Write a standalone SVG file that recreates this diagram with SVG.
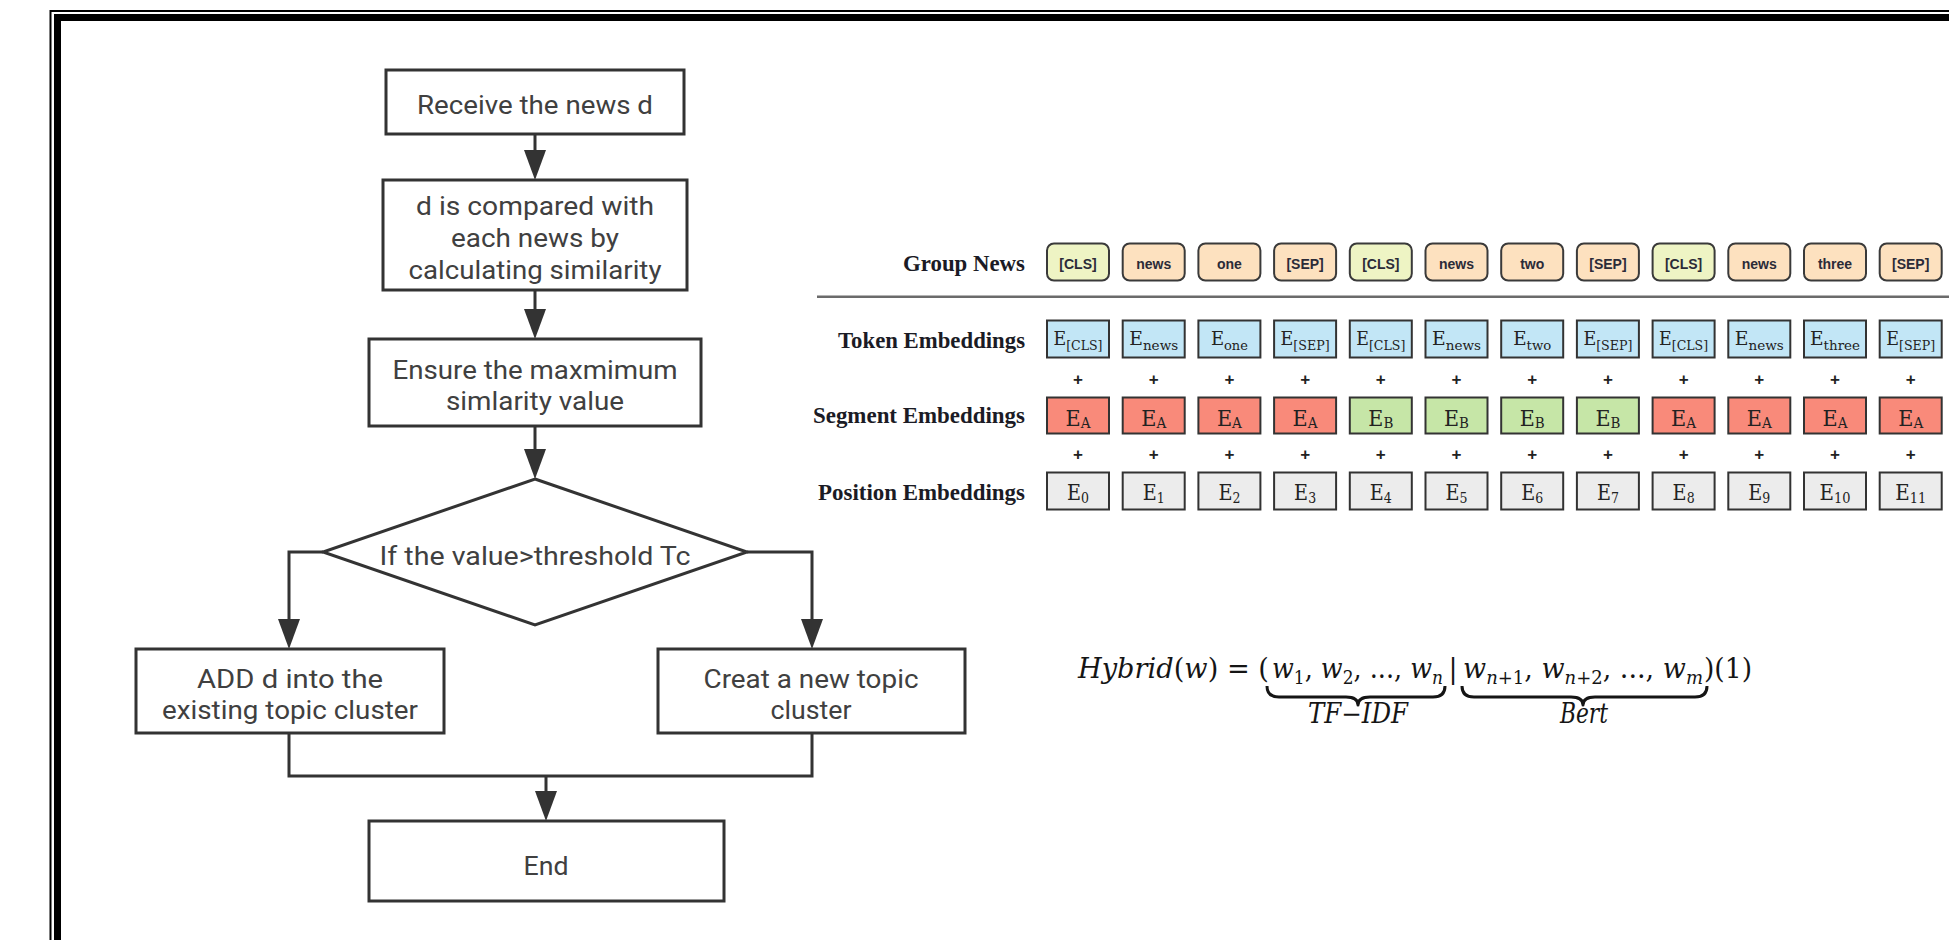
<svg xmlns="http://www.w3.org/2000/svg" width="1949" height="940" viewBox="0 0 1949 940">
<defs>
<style>
.box{fill:#fff;stroke:#333;stroke-width:3}
.conn{fill:none;stroke:#333;stroke-width:3}
.ft{font-family:Roboto,"Liberation Sans",sans-serif;font-size:25px;fill:#404040;text-anchor:middle}
.lbl{font-family:"Liberation Serif","Times New Roman",serif;font-weight:bold;font-size:24px;fill:#1b1b25;text-anchor:end}
.gt{font-family:"Liberation Sans",Arial,sans-serif;font-weight:bold;font-size:14px;fill:#2b2b38;text-anchor:middle}
.gc{fill:#eef4c4;stroke:#3a3a3a;stroke-width:2}
.gw{fill:#fde1bf;stroke:#3a3a3a;stroke-width:2}
.tk{fill:#c2e6f6;stroke:#333;stroke-width:2}
.sa{fill:#f98a7a;stroke:#333;stroke-width:2}
.sb{fill:#c6e6a7;stroke:#333;stroke-width:2}
.ps{fill:#ececec;stroke:#333;stroke-width:2}
.et{font-family:"DejaVu Serif",serif;fill:#222;text-anchor:middle}
.plus{font-family:"Liberation Sans",Arial,sans-serif;font-weight:bold;font-size:17px;text-anchor:middle;fill:#222}
.math{font-family:"DejaVu Serif",serif;font-size:27px;fill:#151515}
.it{font-style:italic}
.brace{fill:none;stroke:#151515;stroke-width:3;stroke-linejoin:round}
.frame{fill:none;stroke:#000}
</style>
<marker id="ah" markerUnits="userSpaceOnUse" viewBox="0 0 30 22" markerWidth="30" markerHeight="22" refX="0" refY="11" orient="auto">
<path d="M0,0 L30,11 L0,22 Z" fill="#333"/>
</marker>
</defs>
<rect width="1949" height="940" fill="#fff"/>
<g id="frame">
<path class="frame" d="M50.5,940 V11 H1949" stroke-width="2"/>
<path class="frame" d="M57.5,940 V17.5 H1949" stroke-width="7"/>
</g>

<g id="connectors">
<path class="conn" d="M535,134 V150" marker-end="url(#ah)"/>
<path class="conn" d="M535,290 V309" marker-end="url(#ah)"/>
<path class="conn" d="M535,426 V449" marker-end="url(#ah)"/>
<path class="conn" d="M323,552 H289 V619" marker-end="url(#ah)"/>
<path class="conn" d="M747,552 H812 V619" marker-end="url(#ah)"/>
<path class="conn" d="M289,733 V776 H812 V733"/>
<path class="conn" d="M546,776 V791" marker-end="url(#ah)"/>
</g>

<g id="n-receive">
<rect class="box" x="386" y="70" width="298" height="64"/>
<text class="ft" x="535" y="114" textLength="236" lengthAdjust="spacingAndGlyphs">Receive the news d</text>
</g>
<g id="n-compare">
<rect class="box" x="383" y="180" width="304" height="110"/>
<text class="ft" x="535" y="215" textLength="238" lengthAdjust="spacingAndGlyphs">d is compared with</text>
<text class="ft" x="535" y="247" textLength="168" lengthAdjust="spacingAndGlyphs">each news by</text>
<text class="ft" x="535" y="279" textLength="253" lengthAdjust="spacingAndGlyphs">calculating similarity</text>
</g>
<g id="n-ensure">
<rect class="box" x="369" y="339" width="332" height="87"/>
<text class="ft" x="535" y="379" textLength="285" lengthAdjust="spacingAndGlyphs">Ensure the maxmimum</text>
<text class="ft" x="535" y="410" textLength="178" lengthAdjust="spacingAndGlyphs">simlarity value</text>
</g>
<g id="n-decision">
<path class="box" d="M535,479 L747,552 L535,625 L323,552 Z"/>
<text class="ft" x="535" y="565" textLength="311" lengthAdjust="spacingAndGlyphs">If the value&gt;threshold Tc</text>
</g>
<g id="n-add">
<rect class="box" x="136" y="649" width="308" height="84"/>
<text class="ft" x="290" y="688" textLength="186" lengthAdjust="spacingAndGlyphs">ADD d into the</text>
<text class="ft" x="290" y="719" textLength="256" lengthAdjust="spacingAndGlyphs">existing topic cluster</text>
</g>
<g id="n-create">
<rect class="box" x="658" y="649" width="307" height="84"/>
<text class="ft" x="811" y="688" textLength="215" lengthAdjust="spacingAndGlyphs">Creat a new topic</text>
<text class="ft" x="811" y="719" textLength="81" lengthAdjust="spacingAndGlyphs">cluster</text>
</g>
<g id="n-end">
<rect class="box" x="369" y="821" width="355" height="80"/>
<text class="ft" x="546" y="875" textLength="45" lengthAdjust="spacingAndGlyphs">End</text>
</g>

<g id="bert-labels">
<text class="lbl" x="1025" y="271" textLength="122" lengthAdjust="spacingAndGlyphs">Group News</text>
<text class="lbl" x="1025" y="348" textLength="187" lengthAdjust="spacingAndGlyphs">Token Embeddings</text>
<text class="lbl" x="1025" y="423" textLength="212" lengthAdjust="spacingAndGlyphs">Segment Embeddings</text>
<text class="lbl" x="1025" y="500" textLength="207" lengthAdjust="spacingAndGlyphs">Position Embeddings</text>
<path d="M817,296.7 H1949" stroke="#6b6b6b" stroke-width="2.5"/>
</g>

<g id="group-news">
<rect class="gc" x="1047" y="243.5" width="62" height="37" rx="7"/><text class="gt" x="1078" y="269">[CLS]</text>
<rect class="gw" x="1122.7" y="243.5" width="62" height="37" rx="7"/><text class="gt" x="1153.7" y="269">news</text>
<rect class="gw" x="1198.4" y="243.5" width="62" height="37" rx="7"/><text class="gt" x="1229.4" y="269">one</text>
<rect class="gw" x="1274.1" y="243.5" width="62" height="37" rx="7"/><text class="gt" x="1305.1" y="269">[SEP]</text>
<rect class="gc" x="1349.8" y="243.5" width="62" height="37" rx="7"/><text class="gt" x="1380.8" y="269">[CLS]</text>
<rect class="gw" x="1425.5" y="243.5" width="62" height="37" rx="7"/><text class="gt" x="1456.5" y="269">news</text>
<rect class="gw" x="1501.2" y="243.5" width="62" height="37" rx="7"/><text class="gt" x="1532.2" y="269">two</text>
<rect class="gw" x="1576.9" y="243.5" width="62" height="37" rx="7"/><text class="gt" x="1607.9" y="269">[SEP]</text>
<rect class="gc" x="1652.6" y="243.5" width="62" height="37" rx="7"/><text class="gt" x="1683.6" y="269">[CLS]</text>
<rect class="gw" x="1728.3" y="243.5" width="62" height="37" rx="7"/><text class="gt" x="1759.3" y="269">news</text>
<rect class="gw" x="1804" y="243.5" width="62" height="37" rx="7"/><text class="gt" x="1835" y="269">three</text>
<rect class="gw" x="1879.7" y="243.5" width="62" height="37" rx="7"/><text class="gt" x="1910.7" y="269">[SEP]</text>
</g>

<g id="token-embeddings">
<rect class="tk" x="1047" y="320.5" width="62" height="37"/><text class="et" x="1078" y="345" font-size="18" textLength="49" lengthAdjust="spacingAndGlyphs">E<tspan font-size="13" dy="5">[CLS]</tspan></text>
<rect class="tk" x="1122.7" y="320.5" width="62" height="37"/><text class="et" x="1153.7" y="345" font-size="18" textLength="49" lengthAdjust="spacingAndGlyphs">E<tspan font-size="13" dy="5">news</tspan></text>
<rect class="tk" x="1198.4" y="320.5" width="62" height="37"/><text class="et" x="1229.4" y="345" font-size="18" textLength="37" lengthAdjust="spacingAndGlyphs">E<tspan font-size="13" dy="5">one</tspan></text>
<rect class="tk" x="1274.1" y="320.5" width="62" height="37"/><text class="et" x="1305.1" y="345" font-size="18" textLength="49" lengthAdjust="spacingAndGlyphs">E<tspan font-size="13" dy="5">[SEP]</tspan></text>
<rect class="tk" x="1349.8" y="320.5" width="62" height="37"/><text class="et" x="1380.8" y="345" font-size="18" textLength="49" lengthAdjust="spacingAndGlyphs">E<tspan font-size="13" dy="5">[CLS]</tspan></text>
<rect class="tk" x="1425.5" y="320.5" width="62" height="37"/><text class="et" x="1456.5" y="345" font-size="18" textLength="49" lengthAdjust="spacingAndGlyphs">E<tspan font-size="13" dy="5">news</tspan></text>
<rect class="tk" x="1501.2" y="320.5" width="62" height="37"/><text class="et" x="1532.2" y="345" font-size="18" textLength="38" lengthAdjust="spacingAndGlyphs">E<tspan font-size="13" dy="5">two</tspan></text>
<rect class="tk" x="1576.9" y="320.5" width="62" height="37"/><text class="et" x="1607.9" y="345" font-size="18" textLength="49" lengthAdjust="spacingAndGlyphs">E<tspan font-size="13" dy="5">[SEP]</tspan></text>
<rect class="tk" x="1652.6" y="320.5" width="62" height="37"/><text class="et" x="1683.6" y="345" font-size="18" textLength="49" lengthAdjust="spacingAndGlyphs">E<tspan font-size="13" dy="5">[CLS]</tspan></text>
<rect class="tk" x="1728.3" y="320.5" width="62" height="37"/><text class="et" x="1759.3" y="345" font-size="18" textLength="49" lengthAdjust="spacingAndGlyphs">E<tspan font-size="13" dy="5">news</tspan></text>
<rect class="tk" x="1804" y="320.5" width="62" height="37"/><text class="et" x="1835" y="345" font-size="18" textLength="50" lengthAdjust="spacingAndGlyphs">E<tspan font-size="13" dy="5">three</tspan></text>
<rect class="tk" x="1879.7" y="320.5" width="62" height="37"/><text class="et" x="1910.7" y="345" font-size="18" textLength="49" lengthAdjust="spacingAndGlyphs">E<tspan font-size="13" dy="5">[SEP]</tspan></text>
</g>

<g id="plus-signs">
<text class="plus" x="1078" y="385">+</text><text class="plus" x="1153.7" y="385">+</text><text class="plus" x="1229.4" y="385">+</text><text class="plus" x="1305.1" y="385">+</text><text class="plus" x="1380.8" y="385">+</text><text class="plus" x="1456.5" y="385">+</text><text class="plus" x="1532.2" y="385">+</text><text class="plus" x="1607.9" y="385">+</text><text class="plus" x="1683.6" y="385">+</text><text class="plus" x="1759.3" y="385">+</text><text class="plus" x="1835" y="385">+</text><text class="plus" x="1910.7" y="385">+</text>
<text class="plus" x="1078" y="460">+</text><text class="plus" x="1153.7" y="460">+</text><text class="plus" x="1229.4" y="460">+</text><text class="plus" x="1305.1" y="460">+</text><text class="plus" x="1380.8" y="460">+</text><text class="plus" x="1456.5" y="460">+</text><text class="plus" x="1532.2" y="460">+</text><text class="plus" x="1607.9" y="460">+</text><text class="plus" x="1683.6" y="460">+</text><text class="plus" x="1759.3" y="460">+</text><text class="plus" x="1835" y="460">+</text><text class="plus" x="1910.7" y="460">+</text>
</g>

<g id="segment-embeddings">
<rect class="sa" x="1047" y="397.5" width="62" height="36"/><text class="et" x="1078" y="426" font-size="23" textLength="25" lengthAdjust="spacingAndGlyphs">E<tspan font-size="15" dy="2">A</tspan></text>
<rect class="sa" x="1122.7" y="397.5" width="62" height="36"/><text class="et" x="1153.7" y="426" font-size="23" textLength="25" lengthAdjust="spacingAndGlyphs">E<tspan font-size="15" dy="2">A</tspan></text>
<rect class="sa" x="1198.4" y="397.5" width="62" height="36"/><text class="et" x="1229.4" y="426" font-size="23" textLength="25" lengthAdjust="spacingAndGlyphs">E<tspan font-size="15" dy="2">A</tspan></text>
<rect class="sa" x="1274.1" y="397.5" width="62" height="36"/><text class="et" x="1305.1" y="426" font-size="23" textLength="25" lengthAdjust="spacingAndGlyphs">E<tspan font-size="15" dy="2">A</tspan></text>
<rect class="sb" x="1349.8" y="397.5" width="62" height="36"/><text class="et" x="1380.8" y="426" font-size="23" textLength="25" lengthAdjust="spacingAndGlyphs">E<tspan font-size="15" dy="2">B</tspan></text>
<rect class="sb" x="1425.5" y="397.5" width="62" height="36"/><text class="et" x="1456.5" y="426" font-size="23" textLength="25" lengthAdjust="spacingAndGlyphs">E<tspan font-size="15" dy="2">B</tspan></text>
<rect class="sb" x="1501.2" y="397.5" width="62" height="36"/><text class="et" x="1532.2" y="426" font-size="23" textLength="25" lengthAdjust="spacingAndGlyphs">E<tspan font-size="15" dy="2">B</tspan></text>
<rect class="sb" x="1576.9" y="397.5" width="62" height="36"/><text class="et" x="1607.9" y="426" font-size="23" textLength="25" lengthAdjust="spacingAndGlyphs">E<tspan font-size="15" dy="2">B</tspan></text>
<rect class="sa" x="1652.6" y="397.5" width="62" height="36"/><text class="et" x="1683.6" y="426" font-size="23" textLength="25" lengthAdjust="spacingAndGlyphs">E<tspan font-size="15" dy="2">A</tspan></text>
<rect class="sa" x="1728.3" y="397.5" width="62" height="36"/><text class="et" x="1759.3" y="426" font-size="23" textLength="25" lengthAdjust="spacingAndGlyphs">E<tspan font-size="15" dy="2">A</tspan></text>
<rect class="sa" x="1804" y="397.5" width="62" height="36"/><text class="et" x="1835" y="426" font-size="23" textLength="25" lengthAdjust="spacingAndGlyphs">E<tspan font-size="15" dy="2">A</tspan></text>
<rect class="sa" x="1879.7" y="397.5" width="62" height="36"/><text class="et" x="1910.7" y="426" font-size="23" textLength="25" lengthAdjust="spacingAndGlyphs">E<tspan font-size="15" dy="2">A</tspan></text>
</g>

<g id="position-embeddings">
<rect class="ps" x="1047" y="472.5" width="62" height="37"/><text class="et" x="1078" y="500" font-size="23" textLength="22" lengthAdjust="spacingAndGlyphs">E<tspan font-size="15" dy="3">0</tspan></text>
<rect class="ps" x="1122.7" y="472.5" width="62" height="37"/><text class="et" x="1153.7" y="500" font-size="23" textLength="22" lengthAdjust="spacingAndGlyphs">E<tspan font-size="15" dy="3">1</tspan></text>
<rect class="ps" x="1198.4" y="472.5" width="62" height="37"/><text class="et" x="1229.4" y="500" font-size="23" textLength="22" lengthAdjust="spacingAndGlyphs">E<tspan font-size="15" dy="3">2</tspan></text>
<rect class="ps" x="1274.1" y="472.5" width="62" height="37"/><text class="et" x="1305.1" y="500" font-size="23" textLength="22" lengthAdjust="spacingAndGlyphs">E<tspan font-size="15" dy="3">3</tspan></text>
<rect class="ps" x="1349.8" y="472.5" width="62" height="37"/><text class="et" x="1380.8" y="500" font-size="23" textLength="22" lengthAdjust="spacingAndGlyphs">E<tspan font-size="15" dy="3">4</tspan></text>
<rect class="ps" x="1425.5" y="472.5" width="62" height="37"/><text class="et" x="1456.5" y="500" font-size="23" textLength="22" lengthAdjust="spacingAndGlyphs">E<tspan font-size="15" dy="3">5</tspan></text>
<rect class="ps" x="1501.2" y="472.5" width="62" height="37"/><text class="et" x="1532.2" y="500" font-size="23" textLength="22" lengthAdjust="spacingAndGlyphs">E<tspan font-size="15" dy="3">6</tspan></text>
<rect class="ps" x="1576.9" y="472.5" width="62" height="37"/><text class="et" x="1607.9" y="500" font-size="23" textLength="22" lengthAdjust="spacingAndGlyphs">E<tspan font-size="15" dy="3">7</tspan></text>
<rect class="ps" x="1652.6" y="472.5" width="62" height="37"/><text class="et" x="1683.6" y="500" font-size="23" textLength="22" lengthAdjust="spacingAndGlyphs">E<tspan font-size="15" dy="3">8</tspan></text>
<rect class="ps" x="1728.3" y="472.5" width="62" height="37"/><text class="et" x="1759.3" y="500" font-size="23" textLength="22" lengthAdjust="spacingAndGlyphs">E<tspan font-size="15" dy="3">9</tspan></text>
<rect class="ps" x="1804" y="472.5" width="62" height="37"/><text class="et" x="1835" y="500" font-size="23" textLength="31" lengthAdjust="spacingAndGlyphs">E<tspan font-size="15" dy="3">10</tspan></text>
<rect class="ps" x="1879.7" y="472.5" width="62" height="37"/><text class="et" x="1910.7" y="500" font-size="23" textLength="31" lengthAdjust="spacingAndGlyphs">E<tspan font-size="15" dy="3">11</tspan></text>
</g>

<g id="formula">
<text class="math" x="1078" y="678" textLength="191" lengthAdjust="spacingAndGlyphs"><tspan class="it">Hybrid</tspan>(<tspan class="it">w</tspan>) = (</text>
<text class="math" x="1272" y="678" textLength="171" lengthAdjust="spacingAndGlyphs"><tspan class="it">w</tspan><tspan font-size="18" dy="6">1</tspan><tspan dy="-6">, </tspan><tspan class="it">w</tspan><tspan font-size="18" dy="6">2</tspan><tspan dy="-6">, ..., </tspan><tspan class="it">w</tspan><tspan class="it" font-size="18" dy="6">n</tspan></text>
<text class="math" x="1453" y="678" text-anchor="middle" fill="#5a2030">|</text>
<text class="math" x="1463" y="678" textLength="240" lengthAdjust="spacingAndGlyphs"><tspan class="it">w</tspan><tspan font-size="18" dy="6"><tspan class="it">n</tspan>+1</tspan><tspan dy="-6">, </tspan><tspan class="it">w</tspan><tspan font-size="18" dy="6"><tspan class="it">n</tspan>+2</tspan><tspan dy="-6">, ..., </tspan><tspan class="it">w</tspan><tspan class="it" font-size="18" dy="6">m</tspan></text>
<text class="math" x="1704" y="678" textLength="48" lengthAdjust="spacingAndGlyphs">)(1)</text>
<path class="brace" d="M1267,686 Q1267,697 1279,697 L1346,697 Q1358,697 1358,705 Q1358,697 1370,697 L1433,697 Q1445,697 1445,686"/>
<path class="brace" d="M1462,686 Q1462,697 1474,697 L1571,697 Q1583,697 1583,705 Q1583,697 1595,697 L1695,697 Q1707,697 1707,686"/>
<text class="math it" x="1358" y="723" font-size="19" text-anchor="middle" textLength="100" lengthAdjust="spacingAndGlyphs">TF−IDF</text>
<text class="math it" x="1584" y="723" font-size="19" text-anchor="middle" textLength="48" lengthAdjust="spacingAndGlyphs">Bert</text>
</g>
</svg>
